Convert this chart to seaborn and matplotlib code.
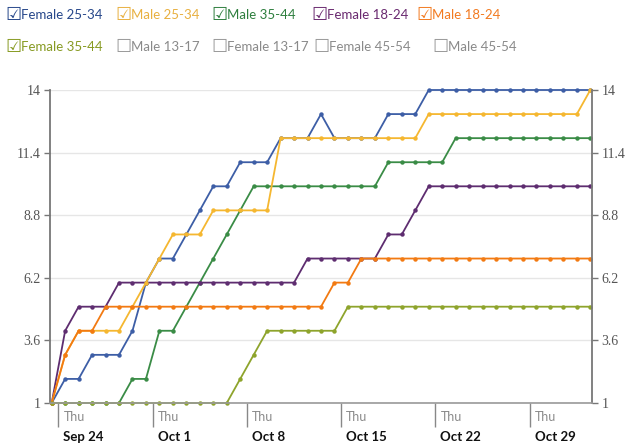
import matplotlib
matplotlib.use('Agg')
import matplotlib.pyplot as plt
import matplotlib.dates as mdates
import matplotlib.transforms as mtransforms
import seaborn as sns
import pandas as pd

# daily values, Sep 23 .. Nov 2
dates = pd.date_range('2009-09-23 12:00', periods=41, freq='D')

female_25_34 = [1, 2, 2, 3, 3, 3, 4, 6, 7, 7, 8, 9, 10, 10, 11, 11, 11, 12, 12, 12,
                13, 12, 12, 12, 12, 13, 13, 13, 14, 14, 14, 14, 14, 14, 14, 14, 14, 14, 14, 14, 14]
male_25_34 = [1, 3, 4, 4, 4, 4, 5, 6, 7, 8, 8, 8, 9, 9, 9, 9, 9, 12, 12, 12,
              12, 12, 12, 12, 12, 12, 12, 12, 13, 13, 13, 13, 13, 13, 13, 13, 13, 13, 13, 13, 14]
male_35_44 = [1, 1, 1, 1, 1, 1, 2, 2, 4, 4, 5, 6, 7, 8, 9, 10, 10, 10, 10, 10,
              10, 10, 10, 10, 10, 11, 11, 11, 11, 11, 12, 12, 12, 12, 12, 12, 12, 12, 12, 12, 12]
female_18_24 = [1, 4, 5, 5, 5, 6, 6, 6, 6, 6, 6, 6, 6, 6, 6, 6, 6, 6, 6, 7,
                7, 7, 7, 7, 7, 8, 8, 9, 10, 10, 10, 10, 10, 10, 10, 10, 10, 10, 10, 10, 10]
male_18_24 = [1, 3, 4, 4, 5, 5, 5, 5, 5, 5, 5, 5, 5, 5, 5, 5, 5, 5, 5, 5,
              5, 6, 6, 7, 7, 7, 7, 7, 7, 7, 7, 7, 7, 7, 7, 7, 7, 7, 7, 7, 7]
female_35_44 = [1, 1, 1, 1, 1, 1, 1, 1, 1, 1, 1, 1, 1, 1, 2, 3, 4, 4, 4, 4,
                4, 4, 5, 5, 5, 5, 5, 5, 5, 5, 5, 5, 5, 5, 5, 5, 5, 5, 5, 5, 5]

series = {
    'Female 25-34': female_25_34,
    'Male 25-34': male_25_34,
    'Male 35-44': male_35_44,
    'Female 18-24': female_18_24,
    'Male 18-24': male_18_24,
    'Female 35-44': female_35_44,
}
line_colors = {
    'Female 25-34': '#3d5ea6',
    'Male 25-34': '#f5b730',
    'Male 35-44': '#3a8c46',
    'Female 18-24': '#5e2d70',
    'Male 18-24': '#f27a12',
    'Female 35-44': '#8ea42c',
}
draw_order = ['Male 35-44', 'Female 18-24', 'Female 25-34', 'Male 25-34', 'Male 18-24', 'Female 35-44']

legend_rows = [
    [('Female 25-34', '#26478a', True), ('Male 25-34', '#e8b040', True), ('Male 35-44', '#2e7f3e', True),
     ('Female 18-24', '#6a2a70', True), ('Male 18-24', '#f27a20', True)],
    [('Female 35-44', '#879a22', True), ('Male 13-17', '#8a8a8a', False), ('Female 13-17', '#8a8a8a', False),
     ('Female 45-54', '#8a8a8a', False), ('Male 45-54', '#8a8a8a', False)],
]
legend_x = [[5, 115, 211, 311, 416], [5, 115, 211, 313, 432]]
legend_y = [15, 47]

y_ticks = [1, 3.6, 6.2, 8.8, 11.4, 14]
y_labels = ['1', '3.6', '6.2', '8.8', '11.4', '14']

rows = []
for name, vals in series.items():
    for d, v in zip(dates, vals):
        rows.append({'date': d, 'value': v, 'series': name})
df = pd.DataFrame(rows)

sns.set_style('white')
W, H = 629, 448
fig = plt.figure(figsize=(W / 100, H / 100), dpi=100)
ax = fig.add_axes([50 / W, 45 / H, 542 / W, 313 / H])

sns.lineplot(data=df, x='date', y='value', hue='series', hue_order=draw_order,
             palette=line_colors, estimator=None, marker='o', markersize=3.2,
             markeredgewidth=0, linewidth=1.3, legend=False, clip_on=False, ax=ax)

ax.set_ylim(1, 14)
ax.set_xlim(dates[0] - pd.Timedelta(hours=3), dates[-1] + pd.Timedelta(hours=3))
ax.set_xlabel('')
ax.set_ylabel('')

ax.set_yticks(y_ticks)
ax.set_yticklabels(y_labels, family='Liberation Serif', fontsize=10, color='#555555')
ax.tick_params(axis='y', left=True, right=True, labelleft=True, labelright=True,
               length=4, width=1, color='#777777', pad=3)
ax.grid(axis='y', color='#e6e6e6', linewidth=1)
ax.set_axisbelow(True)

for side in ['left', 'right']:
    ax.spines[side].set_color('#777777')
    ax.spines[side].set_linewidth(1.3)
ax.spines['top'].set_visible(False)
ax.spines['bottom'].set_color('#999999')
ax.spines['bottom'].set_linewidth(1.2)

ax.xaxis.set_major_locator(mdates.WeekdayLocator(byweekday=mdates.TH))
ax.xaxis.set_major_formatter(plt.NullFormatter())
ax.tick_params(axis='x', bottom=True, length=17, width=1, color='#888888', direction='out')

trans = mtransforms.blended_transform_factory(ax.transData, ax.transAxes) + \
    mtransforms.ScaledTranslation(5 / 100, 0, fig.dpi_scale_trans)
for t in ax.get_xticks():
    day = mdates.num2date(t)
    ax.text(t, -0.045, day.strftime('%a'), transform=trans, ha='left', va='center',
            fontsize=9, family='Lato', color='#8a8a8a')
    ax.text(t, -0.11, day.strftime('%b %d').replace(' 0', ' '), transform=trans, ha='left',
            va='center', fontsize=9.5, family='Lato', fontweight='bold', color='#111111')

for row, xs, yy in zip(legend_rows, legend_x, legend_y):
    for (label, col, checked), xx in zip(row, xs):
        fig.text(xx / W, 1 - yy / H, '☑' if checked else '☐', color=col if checked else '#999999',
                 fontsize=13, family='DejaVu Sans', va='center', ha='left')
        fig.text((xx + 16) / W, 1 - yy / H, label, color=col, fontsize=9.5, family='Lato',
                 va='center', ha='left')

fig.savefig('out.png', dpi=100)
